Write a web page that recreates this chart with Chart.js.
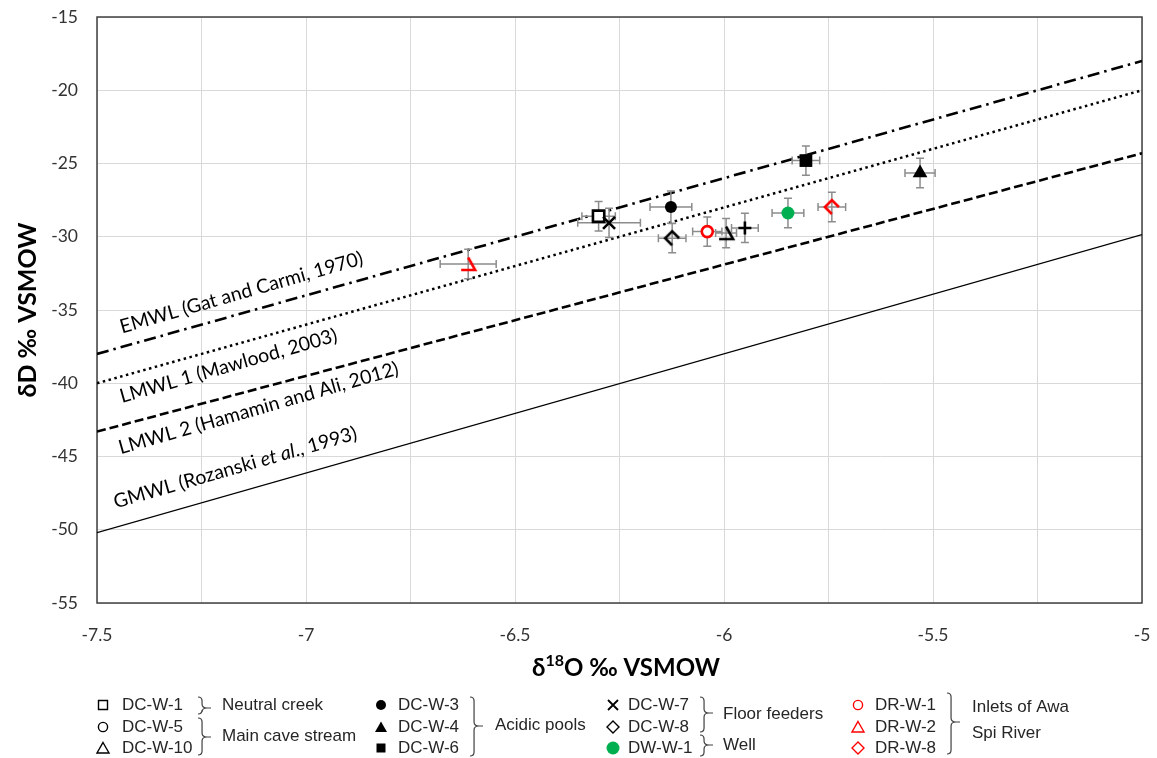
<!DOCTYPE html>
<html>
<head>
<meta charset="utf-8">
<script src="https://cdn.jsdelivr.net/npm/chart.js@4.4.1/dist/chart.umd.min.js"></script>
<style>
  html, body { margin: 0; padding: 0; background: #fff; }
  #wrap { position: relative; width: 1157px; height: 758px; }
</style>
</head>
<body>
<div id="wrap"><canvas id="grafico"></canvas></div>
<script>
// Amostras (δ18O, δD e barras de erro)
const amostras = ['DC-W-7', 'DC-W-1', 'DC-W-3', 'DC-W-8', 'DR-W-1', 'DC-W-10', 'DC-W-5', 'DC-W-6', 'DW-W-1', 'DR-W-8', 'DC-W-4', 'DR-W-2'];
const d18O = [-6.275, -6.30, -6.127, -6.124, -6.04, -5.995, -5.95, -5.804, -5.847, -5.742, -5.531, -6.612];
const dD = [-29.05, -28.6, -27.97, -30.1, -29.65, -29.75, -29.4, -24.8, -28.38, -27.97, -25.65, -31.86];
const erro18O = [0.075, 0.04, 0.05, 0.033, 0.035, 0.025, 0.032, 0.033, 0.038, 0.033, 0.036, 0.067];
const erroD = [1.0, 1.0, 1.1, 1.0, 1.0, 1.0, 1.0, 1.0, 1.0, 1.0, 1.0, 1.0];

// Retas meteóricas (extremos em δ18O = -7.5 e -5)
const retaX = [-7.5, -5];
const emwl = [-38, -18];
const lmwl1 = [-40, -20];
const lmwl2 = [-43.3, -24.3];
const gmwl = [-50.2, -29.85];

// Rótulos dos eixos
const rotulosX = [-7.5, -7, -6.5, -6, -5.5, -5];
const rotulosY = [-15, -20, -25, -30, -35, -40, -45, -50, -55];

// Marcadores "quebrados" como aparecem no original
function marcadorQuebrado(tipo, cor) {
    const c = document.createElement('canvas');
    c.width = 22; c.height = 22;
    const g = c.getContext('2d');
    g.strokeStyle = cor; g.lineWidth = 2.6; g.lineJoin = 'miter'; g.lineCap = 'butt';
    g.beginPath();
    if (tipo === 'tri') {
        g.moveTo(11, 4.5); g.lineTo(18, 17); g.lineTo(4, 17);
    } else {
        g.moveTo(18, 11); g.lineTo(11, 4); g.lineTo(4, 11); g.lineTo(11, 18);
    }
    g.stroke();
    return c;
}

const estilos = {
    'DC-W-1': { pointStyle: 'rect', pointRadius: 8, pointBorderWidth: 2.6, pointBorderColor: '#000', pointBackgroundColor: '#fff' },
    'DC-W-7': { pointStyle: 'crossRot', pointRadius: 8.5, pointBorderWidth: 2.6, pointBorderColor: '#000' },
    'DC-W-3': { pointStyle: 'circle', pointRadius: 6, pointBorderWidth: 0, pointBackgroundColor: '#000' },
    'DC-W-8': { pointStyle: marcadorQuebrado('dia', '#000'), pointRadius: 8 },
    'DR-W-1': { pointStyle: 'circle', pointRadius: 5.5, pointBorderWidth: 2.6, pointBorderColor: '#ff0000', pointBackgroundColor: '#fff' },
    'DC-W-10': { pointStyle: marcadorQuebrado('tri', '#000'), pointRadius: 8 },
    'DC-W-5': { pointStyle: 'cross', pointRadius: 6.5, pointBorderWidth: 2.6, pointBorderColor: '#000' },
    'DC-W-6': { pointStyle: 'rect', pointRadius: 9, pointBorderWidth: 0, pointBackgroundColor: '#000' },
    'DW-W-1': { pointStyle: 'circle', pointRadius: 6.5, pointBorderWidth: 0, pointBackgroundColor: '#00b050' },
    'DR-W-8': { pointStyle: marcadorQuebrado('dia', '#ff0000'), pointRadius: 8 },
    'DC-W-4': { pointStyle: 'triangle', pointRadius: 8.5, pointBorderWidth: 0, pointBackgroundColor: '#000' },
    'DR-W-2': { pointStyle: marcadorQuebrado('tri', '#ff0000'), pointRadius: 8 }
};

const datasets = amostras.map((nome, i) => Object.assign({
    label: nome,
    data: [{ x: d18O[i], y: dD[i] }],
    showLine: false
}, estilos[nome]));

function reta(nome, ys, largura, tracejado) {
    return {
        label: nome,
        data: retaX.map((x, i) => ({ x: x, y: ys[i] })),
        showLine: true,
        pointRadius: 0,
        borderColor: '#000',
        borderWidth: largura,
        borderDash: tracejado,
        borderCapStyle: 'butt',
        fill: false
    };
}
datasets.push(reta('EMWL', emwl, 2.6, [12, 5, 2.5, 5]));
datasets.push(reta('LMWL 1', lmwl1, 2.5, [2.5, 3.5]));
datasets.push(reta('LMWL 2', lmwl2, 2.6, [9, 4]));
datasets.push(reta('GMWL', gmwl, 1.2, []));

// Textos inclinados junto às retas (posição em coordenadas dos dados)
const textosRetas = [
    { partes: [['EMWL (Gat and Carmi, 1970)', '']], x: -7.44, y: -36.6 },
    { partes: [['LMWL 1 (Mawlood, 2003)', '']], x: -7.44, y: -41.35 },
    { partes: [['LMWL 2 (Hamamin and Ali, 2012)', '']], x: -7.443, y: -44.85 },
    { partes: [['GMWL (Rozanski ', ''], ['et al', 'italic '], ['., 1993)', '']], x: -7.455, y: -48.55 }
];

const fonteRotulo = '19.5px Lato';

function chave(ctx, x, yTopo, yBase, yPonta, w) {
    const xm = x + w * 0.45;
    ctx.beginPath();
    ctx.moveTo(x, yTopo);
    ctx.quadraticCurveTo(xm, yTopo, xm, yTopo + 4);
    ctx.lineTo(xm, yPonta - 4);
    ctx.quadraticCurveTo(xm, yPonta, x + w, yPonta);
    ctx.quadraticCurveTo(xm, yPonta, xm, yPonta + 4);
    ctx.lineTo(xm, yBase - 4);
    ctx.quadraticCurveTo(xm, yBase, x, yBase);
    ctx.moveTo(x + w, yPonta);
    ctx.lineTo(x + w + 4, yPonta);
    ctx.stroke();
}

function simbolo(ctx, tipo, x, y, cor, cheio) {
    ctx.save();
    ctx.strokeStyle = cor; ctx.fillStyle = cor; ctx.lineWidth = 1.4;
    ctx.beginPath();
    if (tipo === 'quad') ctx.rect(x - 4.5, y - 4.5, 9, 9);
    if (tipo === 'circ') ctx.arc(x, y, cheio ? 5 : 4.6, 0, Math.PI * 2);
    if (tipo === 'circG') ctx.arc(x, y, 6.5, 0, Math.PI * 2);
    if (tipo === 'tri') { ctx.moveTo(x, y - 5.5); ctx.lineTo(x + 6, y + 5); ctx.lineTo(x - 6, y + 5); ctx.closePath(); }
    if (tipo === 'dia') { ctx.moveTo(x, y - 6); ctx.lineTo(x + 6, y); ctx.lineTo(x, y + 6); ctx.lineTo(x - 6, y); ctx.closePath(); }
    if (tipo === 'x') { ctx.moveTo(x - 5, y - 5); ctx.lineTo(x + 5, y + 5); ctx.moveTo(x + 5, y - 5); ctx.lineTo(x - 5, y + 5); ctx.lineWidth = 1.8; }
    if (cheio) ctx.fill(); else ctx.stroke();
    ctx.restore();
}

const legenda = [
    { sx: 103, tx: 122, itens: [['quad', '#000', false, 'DC-W-1'], ['circ', '#000', false, 'DC-W-5'], ['tri', '#000', false, 'DC-W-10']] },
    { sx: 381, tx: 398, itens: [['circ', '#000', true, 'DC-W-3'], ['tri', '#000', true, 'DC-W-4'], ['quad', '#000', true, 'DC-W-6']] },
    { sx: 613, tx: 628, itens: [['x', '#000', false, 'DC-W-7'], ['dia', '#000', false, 'DC-W-8'], ['circG', '#00b050', true, 'DW-W-1']] },
    { sx: 858, tx: 875, itens: [['circ', '#ff0000', false, 'DR-W-1'], ['tri', '#ff0000', false, 'DR-W-2'], ['dia', '#ff0000', false, 'DR-W-8']] }
];
const linhasLegenda = [705, 727, 748];
const chaves = [
    { x: 198, y0: 697, y1: 714, yp: 708, textos: [['Neutral creek', 222, 705]] },
    { x: 198, y0: 718, y1: 755, yp: 737, textos: [['Main cave stream', 222, 736]] },
    { x: 470, y0: 697, y1: 756, yp: 726, textos: [['Acidic pools', 495, 725]] },
    { x: 700, y0: 697, y1: 732, yp: 713, textos: [['Floor feeders', 723, 714]] },
    { x: 700, y0: 735, y1: 756, yp: 745, textos: [['Well', 723, 745]] },
    { x: 947, y0: 693, y1: 754, yp: 722, textos: [['Inlets of Awa', 972, 707], ['Spi River', 972, 733]] }
];

const extras = {
    id: 'extras',
    beforeDatasetsDraw(chart) {
        const a = chart.chartArea, ctx = chart.ctx;
        ctx.save();
        ctx.strokeStyle = '#404040'; ctx.lineWidth = 1.5;
        ctx.strokeRect(a.left, a.top, a.right - a.left, a.bottom - a.top);
        ctx.restore();
    },
    beforeDatasetDraw(chart, args) {
        if (args.index !== amostras.length - 1) return;
        // barras de erro de todas as amostras, por baixo dos marcadores
        const ctx = chart.ctx, sx = chart.scales.x, sy = chart.scales.y;
        ctx.save();
        ctx.strokeStyle = '#8c8c8c'; ctx.lineWidth = 1.5;
        ctx.beginPath();
        const cap = 4;
        amostras.forEach((n, i) => {
            const px = sx.getPixelForValue(d18O[i]), py = sy.getPixelForValue(dD[i]);
            const x0 = sx.getPixelForValue(d18O[i] - erro18O[i]), x1 = sx.getPixelForValue(d18O[i] + erro18O[i]);
            const y0 = sy.getPixelForValue(dD[i] - erroD[i]), y1 = sy.getPixelForValue(dD[i] + erroD[i]);
            ctx.moveTo(x0, py); ctx.lineTo(x1, py);
            ctx.moveTo(x0, py - cap); ctx.lineTo(x0, py + cap);
            ctx.moveTo(x1, py - cap); ctx.lineTo(x1, py + cap);
            ctx.moveTo(px, y0); ctx.lineTo(px, y1);
            ctx.moveTo(px - cap, y0); ctx.lineTo(px + cap, y0);
            ctx.moveTo(px - cap, y1); ctx.lineTo(px + cap, y1);
        });
        ctx.stroke();
        ctx.restore();
    },
    afterDatasetsDraw(chart) {
        const ctx = chart.ctx, sx = chart.scales.x, sy = chart.scales.y;
        ctx.save();
        ctx.fillStyle = '#000';
        ctx.textBaseline = 'alphabetic';
        textosRetas.forEach(t => {
            ctx.save();
            ctx.translate(sx.getPixelForValue(t.x), sy.getPixelForValue(t.y));
            ctx.rotate(-16 * Math.PI / 180);
            let x = 0;
            t.partes.forEach(p => {
                ctx.font = p[1] + fonteRotulo;
                ctx.fillText(p[0], x, 0);
                x += ctx.measureText(p[0]).width;
            });
            ctx.restore();
        });
        ctx.restore();
    },
    afterDraw(chart) {
        const ctx = chart.ctx;
        ctx.save();
        ctx.fillStyle = '#000';
        // título do eixo y
        ctx.save();
        ctx.translate(28, 310);
        ctx.rotate(-Math.PI / 2);
        ctx.font = 'bold 25px Lato';
        ctx.textAlign = 'center';
        ctx.textBaseline = 'middle';
        ctx.fillText('δD ‰ VSMOW', 0, 0);
        ctx.restore();
        // título do eixo x com sobrescrito
        const p1 = 'δ', p2 = '18', p3 = 'O ‰ VSMOW';
        ctx.textBaseline = 'alphabetic';
        ctx.font = 'bold 24px Lato'; const w1 = ctx.measureText(p1).width, w3 = ctx.measureText(p3).width;
        ctx.font = 'bold 16px Lato'; const w2 = ctx.measureText(p2).width;
        let x = 626 - (w1 + w2 + w3) / 2;
        ctx.font = 'bold 24px Lato'; ctx.fillText(p1, x, 676); x += w1;
        ctx.font = 'bold 16px Lato'; ctx.fillText(p2, x, 666); x += w2;
        ctx.font = 'bold 24px Lato'; ctx.fillText(p3, x, 676);
        // legenda
        ctx.font = '17px "Liberation Sans"';
        ctx.textBaseline = 'middle';
        ctx.fillStyle = '#262626';
        legenda.forEach(col => {
            col.itens.forEach((it, r) => {
                simbolo(ctx, it[0], col.sx, linhasLegenda[r], it[1], it[2]);
                ctx.fillText(it[3], col.tx, linhasLegenda[r]);
            });
        });
        ctx.strokeStyle = '#404040'; ctx.lineWidth = 1.2;
        chaves.forEach(c => {
            chave(ctx, c.x, c.y0, c.y1, c.yp, 9);
            c.textos.forEach(t => ctx.fillText(t[0], t[1], t[2]));
        });
        ctx.restore();
    }
};

const fonteEixo = { family: 'Lato', size: 17.5 };

const grafico = new Chart(document.getElementById('grafico').getContext('2d'), {
    type: 'scatter',
    data: { datasets: datasets },
    options: {
        responsive: true,
        maintainAspectRatio: false,
        animation: false,
        events: [],
        devicePixelRatio: 1,
        layout: { padding: { left: 0, right: 15, top: 17, bottom: 0 } },
        plugins: { legend: { display: false }, tooltip: { enabled: false } },
        scales: {
            x: {
                type: 'linear',
                min: -7.5, max: -5,
                afterFit: s => { s.height = 155; s.paddingLeft = 0; s.paddingRight = 0; },
                grid: { color: '#d9d9d9', lineWidth: 1, drawTicks: false },
                border: { display: false },
                ticks: {
                    stepSize: 0.25, autoSkip: false, maxRotation: 0, padding: 22,
                    color: '#333', font: fonteEixo,
                    callback: v => rotulosX.some(r => Math.abs(r - v) < 1e-6) ? String(v) : ''
                }
            },
            y: {
                type: 'linear',
                min: -55, max: -15,
                afterFit: s => { s.width = 97; s.paddingTop = 0; s.paddingBottom = 0; },
                grid: { color: '#d9d9d9', lineWidth: 1, drawTicks: false },
                border: { display: false },
                ticks: {
                    stepSize: 5, padding: 19, color: '#333', font: fonteEixo,
                    callback: v => rotulosY.includes(v) ? String(v) : ''
                }
            }
        }
    },
    plugins: [extras]
});
</script>
</body>
</html>
